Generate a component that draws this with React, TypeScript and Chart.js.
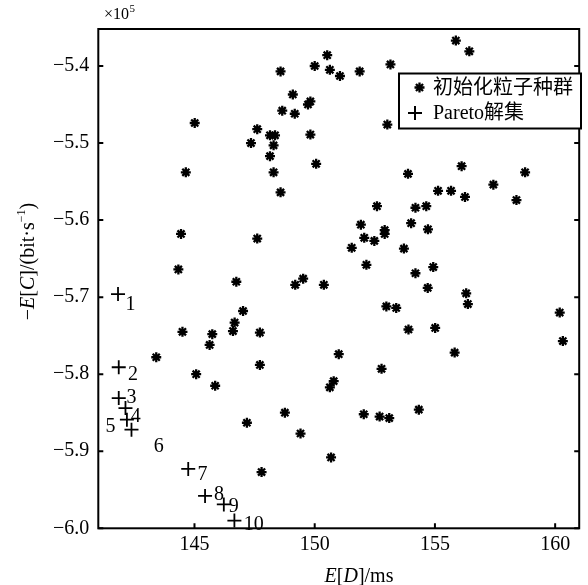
import React, { useEffect, useRef } from 'react';
import { Chart, registerables } from 'chart.js';

Chart.register(...registerables);

// ---------- data ----------
const popX = [
  148.58, 149.09, 145.01, 148.65, 149.17, 147.61, 147.35, 148.14, 148.35, 148.29,
  148.14, 144.64, 148.29, 148.58, 144.44, 147.61, 144.33, 155.87, 156.43, 150.52,
  150.0, 150.63, 151.05, 151.87, 153.15, 153.02, 149.72, 149.82, 149.82, 150.06,
  156.11, 158.75, 153.88, 157.43, 155.13, 155.67, 156.25, 158.39, 152.59, 154.19,
  154.64, 151.92, 154.01, 152.91, 152.91, 154.71, 152.06, 152.48, 151.54, 153.71,
  152.15, 154.93, 154.19, 149.52, 150.38, 154.7, 156.3, 146.74, 149.19, 152.98,
  153.39, 147.02, 146.67, 146.6, 145.74, 145.63, 147.72, 147.72, 151.0, 152.78,
  145.07, 145.86, 150.79, 150.63, 148.76, 152.04, 152.7, 153.1, 147.18, 149.41,
  150.68, 147.79, 156.37, 153.9, 155.01, 155.82, 160.19, 160.32, 154.33, 144.5, 143.41,
];
const popY = [
  -5.407, -5.437, -5.474, -5.458, -5.462, -5.482, -5.5, -5.49, -5.49, -5.503,
  -5.517, -5.538, -5.538, -5.564, -5.618, -5.624, -5.664, -5.367, -5.381, -5.386,
  -5.4, -5.405, -5.413, -5.407, -5.398, -5.476, -5.45, -5.446, -5.489, -5.527,
  -5.53, -5.538, -5.54, -5.554, -5.562, -5.562, -5.57, -5.574, -5.582, -5.584,
  -5.582, -5.606, -5.604, -5.613, -5.618, -5.612, -5.623, -5.627, -5.636, -5.637,
  -5.658, -5.661, -5.669, -5.676, -5.684, -5.688, -5.695, -5.68, -5.684, -5.712,
  -5.714, -5.718, -5.733, -5.744, -5.748, -5.762, -5.746, -5.788, -5.774, -5.793,
  -5.8, -5.815, -5.809, -5.817, -5.85, -5.852, -5.855, -5.857, -5.863, -5.877,
  -5.908, -5.927, -5.709, -5.742, -5.74, -5.772, -5.72, -5.757, -5.846, -5.745, -5.778,
];
const paretoX = [141.82, 141.85, 141.85, 142.13, 142.19, 142.38, 144.74, 145.44, 146.22, 146.66];
const paretoY = [-5.696, -5.791, -5.831, -5.844, -5.859, -5.872, -5.923, -5.958, -5.969, -5.99];
const paretoLabels = ['1', '2', '3', '4', '5', '6', '7', '8', '9', '10'];

const xTicks = [145, 150, 155, 160];
const yTicks = [-6.0, -5.9, -5.8, -5.7, -5.6, -5.5, -5.4];
const X_MIN = 141;
const X_MAX = 161;
const Y_MIN = -6.0;
const Y_MAX = -5.352;

const legendLabels = ['初始化粒子种群', 'Pareto解集'];
const scaleNote = { base: '×10', exp: '5' };

// ---------- styles ----------
const FONT = "'Liberation Serif', 'Times New Roman', 'Noto Sans CJK SC', serif";
const labelOffsets: [number, number][] = [
  [12.4, 11], [14.3, 7.7], [12.7, 0], [10.3, 9], [-16.3, 7.4],
  [27.3, 16.7], [14.3, 6], [14, -1], [10, 2.4], [19.3, 4.3],
];

type Seg = { t: string; italic?: boolean; sup?: boolean };

function drawRich(ctx: CanvasRenderingContext2D, segs: Seg[], x: number, y: number, size: number, align: 'left' | 'center') {
  const fontOf = (s: Seg) => `${s.italic ? 'italic ' : ''}${s.sup ? Math.round(size * 0.62) : size}px ${FONT}`;
  let total = 0;
  const widths: number[] = [];
  for (const s of segs) {
    ctx.font = fontOf(s);
    const w = ctx.measureText(s.t).width;
    widths.push(w);
    total += w;
  }
  let cx = align === 'center' ? x - total / 2 : x;
  ctx.textAlign = 'left';
  ctx.textBaseline = 'alphabetic';
  segs.forEach((s, i) => {
    ctx.font = fontOf(s);
    ctx.fillText(s.t, cx, s.sup ? y - size * 0.42 : y);
    cx += widths[i];
  });
}

function drawStar(ctx: CanvasRenderingContext2D, x: number, y: number, r: number) {
  ctx.beginPath();
  for (let k = 0; k < 4; k++) {
    const a = (k * Math.PI) / 4;
    ctx.moveTo(x - Math.cos(a) * r, y - Math.sin(a) * r);
    ctx.lineTo(x + Math.cos(a) * r, y + Math.sin(a) * r);
  }
  ctx.stroke();
}

function drawCross(ctx: CanvasRenderingContext2D, x: number, y: number, r: number) {
  ctx.beginPath();
  ctx.moveTo(x - r, y);
  ctx.lineTo(x + r, y);
  ctx.moveTo(x, y - r);
  ctx.lineTo(x, y + r);
  ctx.stroke();
}

const decorPlugin = {
  id: 'decor',
  afterDraw(chart: any) {
    const ctx: CanvasRenderingContext2D = chart.ctx;
    const { left, right, top, bottom } = chart.chartArea;
    const xs = chart.scales.x;
    const ys = chart.scales.y;
    ctx.save();
    ctx.strokeStyle = '#000';
    ctx.fillStyle = '#000';
    // frame
    ctx.lineWidth = 2;
    ctx.strokeRect(left, top, right - left, bottom - top);
    // inward ticks
    ctx.beginPath();
    yTicks.forEach((v) => {
      const py = ys.getPixelForValue(v);
      ctx.moveTo(left, py);
      ctx.lineTo(left + 5, py);
      ctx.moveTo(right, py);
      ctx.lineTo(right - 5, py);
    });
    xTicks.forEach((v) => {
      const px = xs.getPixelForValue(v);
      ctx.moveTo(px, bottom);
      ctx.lineTo(px, bottom - 5);
    });
    ctx.stroke();

    // pareto labels
    ctx.font = `20px ${FONT}`;
    ctx.textAlign = 'center';
    ctx.textBaseline = 'middle';
    paretoLabels.forEach((lab, i) => {
      const px = xs.getPixelForValue(paretoX[i]) + labelOffsets[i][0];
      const py = ys.getPixelForValue(paretoY[i]) + labelOffsets[i][1];
      ctx.fillText(lab, px, py);
    });

    // x10^5
    ctx.textAlign = 'left';
    ctx.textBaseline = 'alphabetic';
    ctx.font = `16px ${FONT}`;
    ctx.fillText(scaleNote.base, 104, 19);
    const wb = ctx.measureText(scaleNote.base).width;
    ctx.font = `11px ${FONT}`;
    ctx.fillText(scaleNote.exp, 104 + wb + 0.5, 12);

    // axis titles
    drawRich(ctx, [{ t: 'E', italic: true }, { t: '[' }, { t: 'D', italic: true }, { t: ']/ms' }], 359, 582, 20, 'center');
    ctx.save();
    ctx.translate(33.5, 261.5);
    ctx.rotate(-Math.PI / 2);
    drawRich(
      ctx,
      [
        { t: '−' },
        { t: 'E', italic: true },
        { t: '[' },
        { t: 'C', italic: true },
        { t: ']/(bit·s' },
        { t: '−1', sup: true },
        { t: ')' },
      ],
      0,
      0,
      20,
      'center'
    );
    ctx.restore();

    // legend
    const bx = 399, by = 73.5, bw = 182, bh = 55;
    ctx.fillStyle = '#fff';
    ctx.fillRect(bx, by, bw, bh);
    ctx.fillStyle = '#000';
    ctx.lineWidth = 2;
    ctx.strokeRect(bx, by, bw, bh);
    ctx.lineWidth = 2.3;
    drawStar(ctx, 419.5, 87.5, 5);
    ctx.lineWidth = 2;
    drawCross(ctx, 415, 113, 7);
    ctx.font = `20px ${FONT}`;
    ctx.textAlign = 'left';
    ctx.textBaseline = 'middle';
    ctx.fillText(legendLabels[0], 433, 89);
    ctx.fillText(legendLabels[1], 433, 113.5);
    ctx.restore();
  },
};

export default function App() {
  const ref = useRef<HTMLCanvasElement>(null);
  useEffect(() => {
    const chart = new Chart(ref.current as HTMLCanvasElement, {
      type: 'scatter',
      data: {
        datasets: [
          {
            label: legendLabels[0],
            data: popX.map((x, i) => ({ x, y: popY[i] })),
            pointStyle: 'star',
            pointRadius: 5,
            borderWidth: 2.3,
            borderColor: '#000',
            backgroundColor: '#000',
            clip: false,
          } as any,
          {
            label: legendLabels[1],
            data: paretoX.map((x, i) => ({ x, y: paretoY[i] })),
            pointStyle: 'cross',
            pointRadius: 7,
            borderWidth: 1.8,
            borderColor: '#000',
            backgroundColor: '#000',
            clip: false,
          } as any,
        ],
      },
      options: {
        animation: false,
        responsive: true,
        maintainAspectRatio: false,
        events: [],
        layout: { padding: { left: 0, right: 4.7, top: 29, bottom: 0 } },
        plugins: { legend: { display: false }, tooltip: { enabled: false } },
        scales: {
          x: {
            type: 'linear',
            min: X_MIN,
            max: X_MAX,
            afterFit: (s: any) => {
              s.height = 56.7;
            },
            afterBuildTicks: (s: any) => {
              s.ticks = xTicks.map((v) => ({ value: v }));
            },
            grid: { display: false, drawTicks: false },
            border: { display: false },
            ticks: {
              color: '#000',
              font: { family: FONT, size: 20 },
              padding: 4,
              maxRotation: 0,
              autoSkip: false,
              callback: (v: any) => String(v),
            },
          },
          y: {
            type: 'linear',
            min: Y_MIN,
            max: Y_MAX,
            afterFit: (s: any) => {
              s.width = 98.3;
            },
            afterBuildTicks: (s: any) => {
              s.ticks = yTicks.map((v) => ({ value: v }));
            },
            grid: { display: false, drawTicks: false },
            border: { display: false },
            ticks: {
              color: '#000',
              font: { family: FONT, size: 20 },
              padding: 9,
              autoSkip: false,
              callback: (v: any) => (v < 0 ? '−' : '') + Math.abs(Number(v)).toFixed(1),
            },
          },
        },
      },
      plugins: [decorPlugin],
    });
    return () => chart.destroy();
  }, []);
  return (
    <div style={{ position: 'absolute', left: 0, top: 0, width: 588, height: 585 }}>
      <canvas ref={ref} />
    </div>
  );
}
